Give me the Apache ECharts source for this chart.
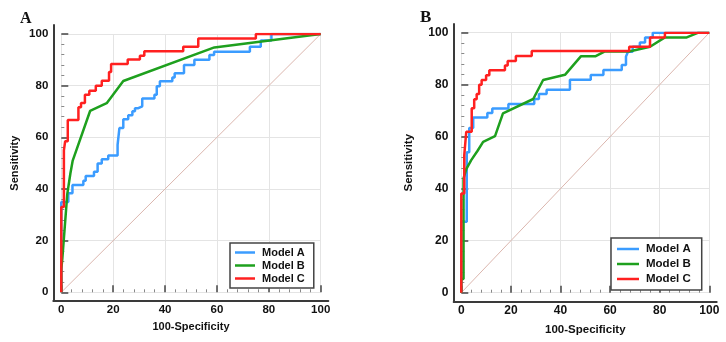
<!DOCTYPE html>
<html>
<head>
<meta charset="utf-8">
<script src="https://cdn.jsdelivr.net/npm/echarts@6/dist/echarts.min.js"></script>
<style>
  html, body { margin: 0; padding: 0; background: #fff; }
  #chart { width: 726px; height: 342px; }
</style>
</head>
<body>
<div id="chart"></div>
<script>
// ROC curves, panel A  (x = 100-Specificity, y = Sensitivity)
var aModelA = [[0,0],[0,35],[2.7,35],[2.7,38.3],[4.3,38.3],[4.3,41.5],[8.5,41.5],[8.5,43.2],[9.4,43.2],[9.4,45],
  [12.6,45],[12.6,46.7],[14,46.7],[14,49.9],[15.6,49.9],[15.6,51.5],[18.1,51.5],[18.1,53],[21.7,53],[21.7,57.1],
  [22.4,57.1],[22.4,63.6],[23.9,63.6],[23.9,67],[25.8,67],[25.8,68.5],[27.4,68.5],[27.4,70.1],[28.4,70.1],[28.4,71.3],
  [29.7,71.3],[29.7,72],[31.2,72],[31.2,75],[35.9,75],[35.9,76.5],[36.8,76.5],[36.8,79.8],[38,79.8],[38,81.7],
  [42.8,81.7],[42.8,83.2],[43.7,83.2],[43.7,84.8],[47.3,84.8],[47.3,88],[51.3,88],[51.3,90],[57.1,90],[57.1,91.9],
  [58.9,91.9],[58.9,93.1],[72.7,93.1],[72.7,95.1],[76.9,95.1],[76.9,97.5],[81,97.5],[81,100],[100,100]];
var aModelB = [[0,0],[0,9],[0.4,13],[2.3,38],[3.5,46],[4.4,51],[11.1,70.2],[17.5,73.2],[23.9,81.8],[59,94.8],[100,100]];
var aModelC = [[0,0],[0,33],[1,33],[1,55],[1.5,55],[1.5,58.5],[2.5,58.5],[2.5,66.7],[6.6,66.7],[6.6,71.6],
  [7.6,71.6],[7.6,73.3],[9.1,73.3],[9.1,76.5],[10.8,76.5],[10.8,78],[13.3,78],[13.3,80],[15.6,80],[15.6,81.9],
  [18.4,81.9],[18.4,85.3],[19.2,85.3],[19.2,88.4],[25.6,88.4],[25.6,90.1],[30.3,90.1],[30.3,91.6],[32,91.6],[32,93.3],
  [47,93.3],[47,95.1],[52.8,95.1],[52.8,98.3],[75,98.3],[75,100],[100,100]];

// ROC curves, panel B
var bModelA = [[0,0],[0,27.3],[2.2,27.3],[2.2,54],[3.2,54],[3.2,63.3],[4.8,63.3],[4.8,67.4],[10.5,67.4],[10.5,69.1],
  [12.5,69.1],[12.5,70.8],[19,70.8],[19,72.6],[29.4,72.6],[29.4,74.5],[31.3,74.5],[31.3,76.4],[34.4,76.4],[34.4,78.1],
  [43.8,78.1],[43.8,81.9],[52.2,81.9],[52.2,83.7],[57.3,83.7],[57.3,85.7],[64.7,85.7],[64.7,87.6],[66.4,87.6],[66.4,90.8],
  [67.2,90.8],[67.2,92.7],[69.1,92.7],[69.1,94.6],[72,94.6],[72,96.2],[74.1,96.2],[74.1,98.2],[77.2,98.2],[77.2,100],[100,100]];
var bModelB = [[0,0],[0,5.3],[0.9,5.3],[0.9,44],[2,47.5],[4,51],[6.5,54.5],[8.8,58],[13.6,60.2],[16.8,69],[29,74.5],
  [33,81.8],[41.8,83.8],[48.2,90.9],[54,90.9],[57.9,92.8],[67.7,92.8],[76.1,94.6],[82.1,98.2],[90.9,98.2],[95.6,100],[100,100]];
var bModelC = [[0,0],[0,38.2],[1.2,38.2],[1.2,53],[2,53],[2,61.9],[4.2,61.9],[4.2,70.9],[5.2,70.9],[5.2,74.4],
  [6.2,74.4],[6.2,76.4],[7.2,76.4],[7.2,80],[8.2,80],[8.2,81.8],[10,81.8],[10,83.6],[11.3,83.6],[11.3,85.6],
  [17.6,85.6],[17.6,87.4],[18.7,87.4],[18.7,89.1],[22,89.1],[22,91],[28.4,91],[28.4,93],[67.7,93],[67.7,94.6],
  [76.1,94.6],[76.1,98.2],[82.1,98.2],[82.1,100],[100,100]];

var diagonal = [[0,0],[100,100]];
var modelNames = ['Model A', 'Model B', 'Model C'];
var modelColors = ['#3b9cff', '#1ea01e', '#ff2020'];

var FONT = 'Liberation Sans, Arial, sans-serif';

// axis with ticks/labels/grid lines (data grid)
function dataX(gi, gap, fs) {
  return {
    type: 'value', gridIndex: gi, min: 0, max: 100, interval: 20, offset: 8,
    name: '100-Specificity', nameLocation: 'middle', nameGap: gap,
    nameTextStyle: { fontFamily: FONT, fontWeight: 'bold', fontSize: fs - 0.5, color: '#111' },
    axisLine: { show: false },
    axisTick: { show: true, inside: true, length: 7, lineStyle: { color: '#444', width: 1.5 } },
    minorTick: { show: true, splitNumber: 5, length: 3, lineStyle: { color: '#888', width: 1 } },
    axisLabel: { fontFamily: FONT, fontWeight: 'bold', fontSize: fs, color: '#111', margin: 4 },
    splitLine: { show: true, lineStyle: { color: '#e4e4e4', width: 1 } }
  };
}
function dataY(gi, gap, fs) {
  return {
    type: 'value', gridIndex: gi, min: 0, max: 100, interval: 20, offset: 8,
    name: 'Sensitivity', nameLocation: 'middle', nameGap: gap, nameRotate: 90,
    nameTextStyle: { fontFamily: FONT, fontWeight: 'bold', fontSize: fs - 0.5, color: '#111' },
    axisLine: { show: false },
    axisTick: { show: true, inside: true, length: 7, lineStyle: { color: '#444', width: 1.5 } },
    minorTick: { show: true, splitNumber: 5, length: 3, lineStyle: { color: '#888', width: 1 } },
    axisLabel: { fontFamily: FONT, fontWeight: 'bold', fontSize: fs, color: '#111', margin: 5 },
    splitLine: { show: true, lineStyle: { color: '#e4e4e4', width: 1 } }
  };
}
// frame axis: only the dark axis line
function frameAxis(gi) {
  return {
    type: 'value', gridIndex: gi, min: 0, max: 1,
    axisLine: { show: true, lineStyle: { color: '#3a3a3a', width: 2 } },
    axisTick: { show: false }, axisLabel: { show: false }, splitLine: { show: false }
  };
}

function rocSeries(list, xi, yi) {
  var out = [{
    type: 'line', xAxisIndex: xi, yAxisIndex: yi, data: diagonal, showSymbol: false, silent: true,
    lineStyle: { color: '#dbb6ae', width: 1 }, z: 2
  }];
  list.forEach(function (d, i) {
    out.push({
      name: modelNames[i], type: 'line', xAxisIndex: xi, yAxisIndex: yi, data: d,
      showSymbol: false, symbol: 'none', color: modelColors[i],
      lineStyle: { color: modelColors[i], width: 2.5 }, z: 3 + i
    });
  });
  return out;
}

function legendBox(left, top, fs, gap, itemW, pad) {
  return {
    orient: 'vertical', left: left, top: top, data: modelNames,
    icon: 'rect', itemWidth: itemW, itemHeight: 2.5, itemGap: gap,
    backgroundColor: '#fff', borderColor: '#444', borderWidth: 1.5, borderRadius: 0,
    padding: pad, selectedMode: false,
    textStyle: { fontFamily: FONT, fontWeight: 'bold', fontSize: fs, color: '#111', padding: [0, 0, 0, 2] }
  };
}

var chart = echarts.init(document.getElementById('chart'), null, { renderer: 'canvas' });
chart.setOption({
  animation: false,
  backgroundColor: '#fff',
  title: [
    { text: 'A', left: 15, top: 6, textStyle: { fontFamily: 'Liberation Serif, serif', fontWeight: 'bold', fontSize: 16, color: '#111' } },
    { text: 'B', left: 415, top: 4, textStyle: { fontFamily: 'Liberation Serif, serif', fontWeight: 'bold', fontSize: 17, color: '#111' } }
  ],
  grid: [
    { left: 61.3, top: 34, width: 259.4, height: 258.3 },
    { left: 461.3, top: 32.7, width: 248, height: 260 },
    { left: 53.3, top: 25, width: 275, height: 275.7 },
    { left: 453.7, top: 24, width: 263, height: 277.7 }
  ],
  xAxis: [dataX(0, 19, 11.5), dataX(1, 23, 12), frameAxis(2), frameAxis(3)],
  yAxis: [dataY(0, 33, 11.5), dataY(1, 38, 12), frameAxis(2), frameAxis(3)],
  legend: [
    legendBox(230, 243, 11, 2, 20, [4, 9, 4, 5]),
    legendBox(611, 238, 11.5, 3, 22, [5, 11, 5, 6])
  ],
  series: rocSeries([aModelA, aModelB, aModelC], 0, 0).concat(rocSeries([bModelA, bModelB, bModelC], 1, 1))
});
</script>
</body>
</html>
